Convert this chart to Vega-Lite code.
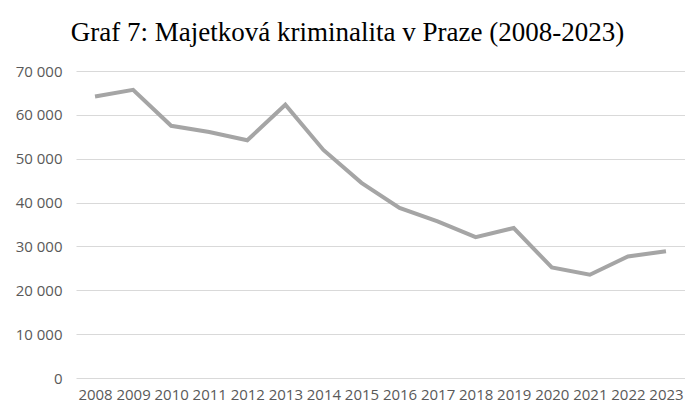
{
  "$schema": "https://vega.github.io/schema/vega-lite/v6.json",
  "autosize": "none",
  "width": 609,
  "height": 307,
  "padding": {"left": 76, "top": 71, "right": 0, "bottom": 29},
  "background": "white",
  "title": {
    "text": "Graf 7: Majetková kriminalita v Praze (2008-2023)",
    "font": "Liberation Serif",
    "fontSize": 27,
    "fontWeight": "normal",
    "color": "#000000",
    "anchor": "middle",
    "dx": -33,
    "offset": 17
  },
  "data": {
    "values": [
      {"rok": "2008", "pocet": 64200},
      {"rok": "2009", "pocet": 65700},
      {"rok": "2010", "pocet": 57500},
      {"rok": "2011", "pocet": 56100},
      {"rok": "2012", "pocet": 54200},
      {"rok": "2013", "pocet": 62300},
      {"rok": "2014", "pocet": 52000},
      {"rok": "2015", "pocet": 44500},
      {"rok": "2016", "pocet": 38800},
      {"rok": "2017", "pocet": 35700},
      {"rok": "2018", "pocet": 32100},
      {"rok": "2019", "pocet": 34200},
      {"rok": "2020", "pocet": 25200},
      {"rok": "2021", "pocet": 23550},
      {"rok": "2022", "pocet": 27700},
      {"rok": "2023", "pocet": 28900}
    ]
  },
  "mark": {"type": "line", "color": "#a5a5a5", "strokeWidth": 4, "strokeJoin": "miter"},
  "encoding": {
    "x": {
      "field": "rok",
      "type": "ordinal",
      "scale": {"type": "point", "padding": 0.5},
      "axis": {
        "title": null,
        "labelAngle": 0,
        "domain": false,
        "ticks": false,
        "grid": false,
        "labelFont": "Open Sans",
        "labelFontSize": 15,
        "labelColor": "#595959",
        "labelPadding": 9
      }
    },
    "y": {
      "field": "pocet",
      "type": "quantitative",
      "scale": {"domain": [0, 70000]},
      "axis": {
        "title": null,
        "values": [0, 10000, 20000, 30000, 40000, 50000, 60000, 70000],
        "labelExpr": "replace(format(datum.value, ','), ',', ' ')",
        "domain": false,
        "ticks": false,
        "grid": true,
        "gridColor": "#d9d9d9",
        "gridWidth": 1,
        "labelFont": "Open Sans",
        "labelFontSize": 15,
        "labelColor": "#595959",
        "labelPadding": 14
      }
    }
  },
  "config": {"view": {"stroke": null}}
}
